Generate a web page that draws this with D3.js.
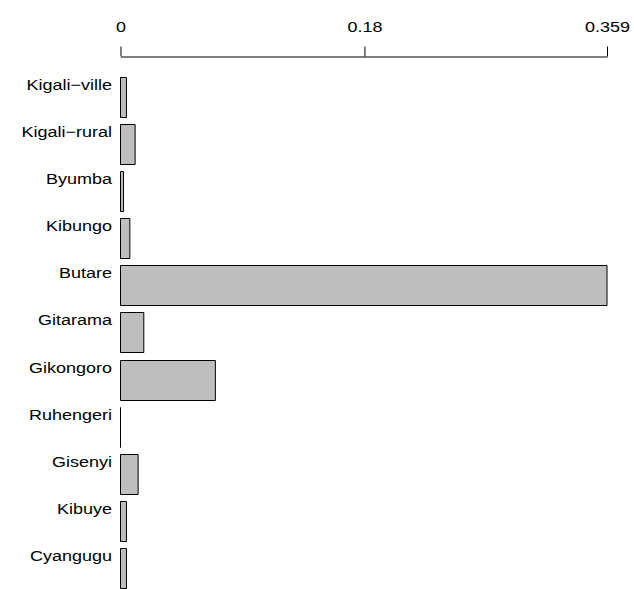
<!DOCTYPE html>
<html><head><meta charset="utf-8">
<script src="https://cdn.jsdelivr.net/npm/d3@7"></script>
<style>body{margin:0;background:#fff}svg{display:block}text{font-family:"Liberation Sans",Arial,sans-serif}</style>
</head><body>
<script>
const categories = ["Kigali-ville","Kigali-rural","Byumba","Kibungo","Butare","Gitarama","Gikongoro","Ruhengeri","Gisenyi","Kibuye","Cyangugu"];
const values = [0.0044,0.0108,0.0022,0.0069,0.359,0.0172,0.070,0.0,0.013,0.0044,0.0044];
const tickValues = [0,0.18,0.359];
const tickLabels = ["0","0.18","0.359"];

const W=634,H=589, SX=1.2, FS=15;
const svg=d3.select("body").append("svg").attr("width",W).attr("height",H);
const x=d3.scaleLinear().domain([0,0.359]).range([120.5,607]);
const y=d3.scaleBand().domain(categories).range([73.5,591.5]).paddingInner(7/47).paddingOuter(3.5/47);

const axis=d3.axisTop(x).tickValues(tickValues).tickFormat("").tickSize(10).tickSizeOuter(0);
const g=svg.append("g").attr("transform","translate(0,56.5)").call(axis);
g.select(".domain").attr("stroke","#000");
g.selectAll(".tick line").attr("stroke","#000");
g.selectAll(".tick").append("text")
  .attr("transform",`translate(0,${32.3-56.5}) scale(${SX},1)`)
  .attr("text-anchor","middle").attr("font-size",FS).attr("fill","#000")
  .attr("font-family","Liberation Sans, Arial, sans-serif")
  .text((d,i)=>tickLabels[i]);

svg.append("g").selectAll("path").data(categories).join("path")
  .attr("d",(d,i)=>{
    const x0=x(0), x1=x(values[i]), y0=Math.round(y(d))+0.5, y1=y0+Math.round(y.bandwidth());
    return `M${x0},${y0}H${x1}V${y1}H${x0}Z`;
  })
  .attr("fill","#bebebe").attr("stroke","#000").attr("stroke-width",1);

svg.append("g").selectAll("text").data(categories).join("text")
  .attr("transform",d=>`translate(112,${Math.round(y(d))+12.5}) scale(${SX},1)`)
  .attr("text-anchor","end").attr("font-size",FS).attr("fill","#000")
  .text(d=>d.replace("-","\u2212"));
</script>
</body></html>
